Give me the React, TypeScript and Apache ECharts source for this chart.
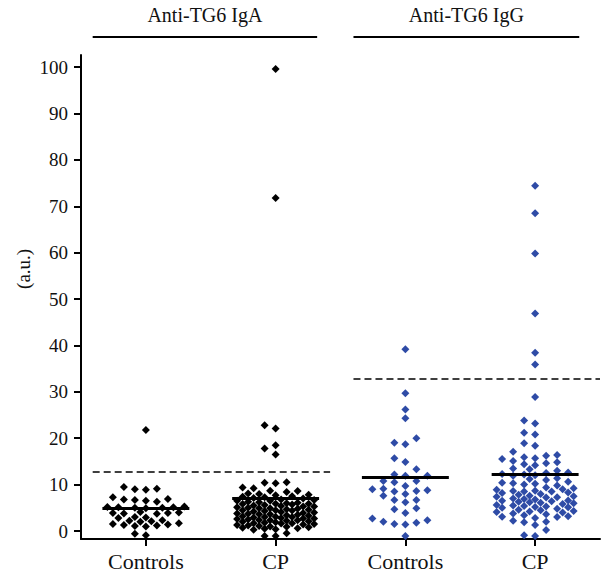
import React, { useEffect, useRef } from "react";
import * as echarts from "echarts";

const categories = ["Controls", "CP", "Controls", "CP"];
const groupTitles = ["Anti-TG6 IgA", "Anti-TG6 IgG"];
const yTicks = [0, 10, 20, 30, 40, 50, 60, 70, 80, 90, 100];
const yName = "(a.u.)";

const igaControls = [
  21.8, 9.5, 9.1, 9.0, 8.9, 7.3, 6.9, 6.8, 6.7, 6.5, 6.3, 5.3, 5.2, 5.1, 5.1, 5.0, 5.0, 4.9,
  4.1, 4.0, 3.9, 3.9, 3.8, 3.7, 3.0, 2.9, 2.8, 2.3, 2.2, 2.1, 2.0, 1.7, 1.5, 1.4, 1.3, 1.2,
  1.1, 1.0, -0.6, -0.9,
];
const igaCP = [
  99.6, 71.8, 22.8, 22.1, 18.5, 17.8, 16.5, 10.5, 10.4, 10.3,
  9.4, 9.2, 8.7, 8.6, 8.4, 8.1, 8.0, 7.8, 7.7, 7.4, 7.3, 7.1, 7.0, 6.8, 6.7, 6.5, 6.5, 6.3,
  6.2, 6.0, 5.9, 5.9, 5.7, 5.6, 5.4, 5.3, 5.3, 5.1, 5.0, 4.9, 4.8, 4.7, 4.6, 4.5, 4.5, 4.3,
  4.2, 4.1, 4.0, 3.9, 3.8, 3.7, 3.6, 3.5, 3.4, 3.3, 3.2, 3.1, 3.0, 2.9, 2.8, 2.7, 2.7, 2.5,
  2.4, 2.3, 2.2, 2.1, 2.0, 1.9, 1.8, 1.7, 1.6, 1.5, 1.4, 1.3, 1.2, 1.1, 1.0, 0.9, 0.8, 0.7,
  0.6, 0.5, 0.4, 0.3, 5.5, 4.4, 3.6, 2.6, 6.1, 4.9, 3.0, 1.7, 7.5, 5.8, 2.3, -0.5, -1.1, -1.1,
];
const iggControls = [
  39.2, 29.7, 26.2, 24.3, 20.0, 19.0, 18.7, 15.7, 14.9, 13.3, 12.2, 11.9, 11.9, 10.8, 10.8,
  10.5, 9.7, 9.1, 9.0, 8.8, 8.6, 8.5, 8.0, 7.6, 6.7, 6.7, 6.2, 4.9, 4.7, 3.9, 2.7, 2.3, 2.0,
  1.8, 1.5, 1.4, -1.1,
];
const iggCP = [
  74.4, 68.5, 59.8, 46.9, 38.4, 35.9, 28.9, 23.8, 23.2, 21.2, 20.8, 18.9, 18.4,
  17.1, 16.4, 16.2, 15.9, 15.7, 15.5, 15.1, 14.8, 14.6, 14.4, 14.2, 13.5, 13.3, 13.0,
  12.6, 12.5, 12.3, 12.2, 12.0, 11.9, 11.4, 11.2, 11.0, 10.6, 10.4, 10.3, 10.2, 10.0, 9.8,
  9.4, 9.2, 9.0, 8.9, 8.7, 8.6, 8.5, 8.5, 8.3, 8.2, 8.0, 7.8, 7.6, 7.5, 7.4, 7.3, 7.2, 7.0,
  6.9, 6.8, 6.6, 6.5, 6.4, 6.3, 6.2, 6.1, 6.0, 5.8, 5.6, 5.5, 5.4, 5.3, 5.2, 5.1, 5.0, 4.8,
  4.6, 4.5, 4.3, 4.2, 4.1, 4.0, 3.8, 3.6, 3.4, 3.2, 3.1, 3.0, 2.8, 2.2, 2.0, 1.9, 1.3, 0.2,
  -0.9, -1.1,
];
const centralLines = [4.8, 7.0, 11.5, 12.2];
const cutoffs = [12.8, 32.8];

const BLACK = "#000000";
const BLUE = "#2e4ba6";
const FONT = "Liberation Serif";

const W = 602;
const H = 577;
const GRID = { left: 81, right: 2, top: 55, bottom: 38 };
const Y_MIN = -1.72;
const Y_MAX = 102.6;
const X_MIN = -0.5;
const X_MAX = 3.5;
const PX_Y = (H - GRID.top - GRID.bottom) / (Y_MAX - Y_MIN);
const PX_X = (W - GRID.left - GRID.right) / (X_MAX - X_MIN);
const STEP = 11;
const MIN_D = 6.5;

function swarm(values: number[], center: number): [number, number][] {
  const placed: { x: number; y: number }[] = [];
  const sorted = [...values].sort((a, b) => a - b);
  const cands = [0, -1, 1, -2, 2, -3, 3, -0.5, 0.5, -1.5, 1.5, -2.5, 2.5, -3.5, 3.5];
  const out: [number, number][] = [];
  for (const v of sorted) {
    const y = v * PX_Y;
    let best = 0;
    let bestD = -1;
    for (const c of cands) {
      const x = c * STEP;
      let minD = Infinity;
      for (const p of placed) {
        const d = Math.hypot(p.x - x, p.y - y);
        if (d < minD) minD = d;
      }
      if (minD >= MIN_D) {
        best = c;
        break;
      }
      if (minD > bestD) {
        bestD = minD;
        best = c;
      }
    }
    placed.push({ x: best * STEP, y });
    out.push([center + (best * STEP) / PX_X, v]);
  }
  return out;
}

export default function App() {
  const ref = useRef<HTMLDivElement>(null);
  useEffect(() => {
    if (!ref.current) return;
    const chart = echarts.init(ref.current, null, { renderer: "svg" });
    const groups = [igaControls, igaCP, iggControls, iggCP];
    const half = 0.335;
    const series: any[] = groups.map((vals, i) => {
      const color = i < 2 ? BLACK : BLUE;
      const mlData: any[] = [
        [
          { coord: [i - half, centralLines[i]], lineStyle: { color: BLACK, width: 3, type: "solid" } },
          { coord: [i + half, centralLines[i]] },
        ],
      ];
      if (i === 0) {
        mlData.push([
          { coord: [-0.41, cutoffs[0]], lineStyle: { color: BLACK, width: 1.5, type: [7, 4] } },
          { coord: [1.42, cutoffs[0]] },
        ]);
      }
      if (i === 2) {
        mlData.push([
          { coord: [1.6, cutoffs[1]], lineStyle: { color: BLACK, width: 1.5, type: [7, 4] } },
          { coord: [3.5, cutoffs[1]] },
        ]);
      }
      return {
        type: "scatter",
        data: swarm(vals, i),
        symbol: "diamond",
        symbolSize: 8,
        itemStyle: { color, opacity: 1 },
        z: 2,
        markLine: {
          silent: true,
          symbol: ["none", "none"],
          label: { show: false },
          z: 5,
          data: mlData,
        },
      };
    });

    chart.setOption({
      animation: false,
      grid: { ...GRID },
      xAxis: {
        type: "value",
        min: X_MIN,
        max: X_MAX,
        splitLine: { show: false },
        axisLine: { onZero: false, lineStyle: { color: BLACK, width: 2 } },
        axisTick: { customValues: [0, 1, 2, 3], length: 7, lineStyle: { color: BLACK, width: 2 } },
        axisLabel: {
          customValues: [0, 1, 2, 3],
          formatter: (v: number) => categories[Math.round(v)],
          color: "#111",
          fontFamily: FONT,
          fontSize: 22,
          margin: 11,
        },
      },
      yAxis: {
        type: "value",
        min: Y_MIN,
        max: Y_MAX,
        splitLine: { show: false },
        axisLine: { onZero: false, lineStyle: { color: BLACK, width: 2 } },
        axisTick: { customValues: yTicks, length: 7, lineStyle: { color: BLACK, width: 2 } },
        axisLabel: {
          customValues: yTicks,
          color: "#111",
          fontFamily: FONT,
          fontSize: 19,
          margin: 13,
        },
      },
      series,
    });

    const headerSpans = [
      [-0.41, 1.32],
      [1.6, 3.34],
    ];
    const graphic: any[] = [];
    headerSpans.forEach((s, gi) => {
      const x1 = chart.convertToPixel({ xAxisIndex: 0 }, s[0]) as number;
      const x2 = chart.convertToPixel({ xAxisIndex: 0 }, s[1]) as number;
      graphic.push({
        type: "line",
        shape: { x1, y1: 37, x2, y2: 37 },
        style: { stroke: BLACK, lineWidth: 2 },
      });
      graphic.push({
        type: "text",
        x: (x1 + x2) / 2,
        y: 15,
        style: {
          text: groupTitles[gi],
          fill: "#111",
          font: `20px "${FONT}"`,
          align: "center",
          verticalAlign: "middle",
        },
      });
    });
    const nameY = chart.convertToPixel({ yAxisIndex: 0 }, 56.5) as number;
    graphic.push({
      type: "text",
      x: 23,
      y: nameY,
      rotation: Math.PI / 2,
      style: {
        text: yName,
        fill: "#111",
        font: `19px "${FONT}"`,
        align: "center",
        verticalAlign: "middle",
      },
    });
    chart.setOption({ graphic });

    return () => chart.dispose();
  }, []);
  return (
    <div
      ref={ref}
      style={{ position: "absolute", left: 0, top: 0, width: W, height: H, background: "#fff" }}
    />
  );
}
